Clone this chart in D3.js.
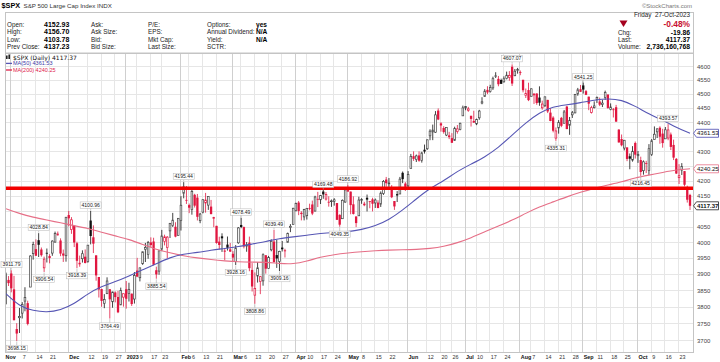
<!DOCTYPE html>
<html><head><meta charset="utf-8">
<script src="https://cdn.jsdelivr.net/npm/d3@7/dist/d3.min.js"></script>
<style>
html,body{margin:0;padding:0;background:#fff;}
svg{display:block;font-family:"Liberation Sans",Arial,sans-serif;}
</style></head><body>
<svg id="chart" width="720" height="362"></svg>
<script>
// ---------------- DATA ----------------
const dates = [
"2022-10-28","2022-10-31",
"2022-11-01","2022-11-02","2022-11-03","2022-11-04","2022-11-07","2022-11-08","2022-11-09","2022-11-10","2022-11-11","2022-11-14","2022-11-15","2022-11-16","2022-11-17","2022-11-18","2022-11-21","2022-11-22","2022-11-23","2022-11-25","2022-11-28","2022-11-29","2022-11-30",
"2022-12-01","2022-12-02","2022-12-05","2022-12-06","2022-12-07","2022-12-08","2022-12-09","2022-12-12","2022-12-13","2022-12-14","2022-12-15","2022-12-16","2022-12-19","2022-12-20","2022-12-21","2022-12-22","2022-12-23","2022-12-27","2022-12-28","2022-12-29","2022-12-30",
"2023-01-03","2023-01-04","2023-01-05","2023-01-06","2023-01-09","2023-01-10","2023-01-11","2023-01-12","2023-01-13","2023-01-17","2023-01-18","2023-01-19","2023-01-20","2023-01-23","2023-01-24","2023-01-25","2023-01-26","2023-01-27","2023-01-30","2023-01-31",
"2023-02-01","2023-02-02","2023-02-03","2023-02-06","2023-02-07","2023-02-08","2023-02-09","2023-02-10","2023-02-13","2023-02-14","2023-02-15","2023-02-16","2023-02-17","2023-02-21","2023-02-22","2023-02-23","2023-02-24","2023-02-27","2023-02-28",
"2023-03-01","2023-03-02","2023-03-03","2023-03-06","2023-03-07","2023-03-08","2023-03-09","2023-03-10","2023-03-13","2023-03-14","2023-03-15","2023-03-16","2023-03-17","2023-03-20","2023-03-21","2023-03-22","2023-03-23","2023-03-24","2023-03-27","2023-03-28","2023-03-29","2023-03-30","2023-03-31",
"2023-04-03","2023-04-04","2023-04-05","2023-04-06","2023-04-10","2023-04-11","2023-04-12","2023-04-13","2023-04-14","2023-04-17","2023-04-18","2023-04-19","2023-04-20","2023-04-21","2023-04-24","2023-04-25","2023-04-26","2023-04-27","2023-04-28",
"2023-05-01","2023-05-02","2023-05-03","2023-05-04","2023-05-05","2023-05-08","2023-05-09","2023-05-10","2023-05-11","2023-05-12","2023-05-15","2023-05-16","2023-05-17","2023-05-18","2023-05-19","2023-05-22","2023-05-23","2023-05-24","2023-05-25","2023-05-26","2023-05-30","2023-05-31",
"2023-06-01","2023-06-02","2023-06-05","2023-06-06","2023-06-07","2023-06-08","2023-06-09","2023-06-12","2023-06-13","2023-06-14","2023-06-15","2023-06-16","2023-06-20","2023-06-21","2023-06-22","2023-06-23","2023-06-26","2023-06-27","2023-06-28","2023-06-29","2023-06-30",
"2023-07-03","2023-07-05","2023-07-06","2023-07-07","2023-07-10","2023-07-11","2023-07-12","2023-07-13","2023-07-14","2023-07-17","2023-07-18","2023-07-19","2023-07-20","2023-07-21","2023-07-24","2023-07-25","2023-07-26","2023-07-27","2023-07-28","2023-07-31",
"2023-08-01","2023-08-02","2023-08-03","2023-08-04","2023-08-07","2023-08-08","2023-08-09","2023-08-10","2023-08-11","2023-08-14","2023-08-15","2023-08-16","2023-08-17","2023-08-18","2023-08-21","2023-08-22","2023-08-23","2023-08-24","2023-08-25","2023-08-28","2023-08-29","2023-08-30","2023-08-31",
"2023-09-01","2023-09-05","2023-09-06","2023-09-07","2023-09-08","2023-09-11","2023-09-12","2023-09-13","2023-09-14","2023-09-15","2023-09-18","2023-09-19","2023-09-20","2023-09-21","2023-09-22","2023-09-25","2023-09-26","2023-09-27","2023-09-28","2023-09-29",
"2023-10-02","2023-10-03","2023-10-04","2023-10-05","2023-10-06","2023-10-09","2023-10-10","2023-10-11","2023-10-12","2023-10-13","2023-10-16","2023-10-17","2023-10-18","2023-10-19","2023-10-20","2023-10-23","2023-10-24","2023-10-25","2023-10-26","2023-10-27"
];
const opens = [
3808.26,3881.85,
3901.79,3852.90,3733.25,3766.98,3780.71,3817.02,3810.94,3859.89,3963.72,3977.97,4006.41,3976.82,3919.26,3966.39,3956.23,3965.51,4000.30,4023.34,4005.36,3964.19,3957.18,
4087.14,4040.17,4052.02,3996.63,3933.28,3947.79,3954.17,3939.29,4069.38,4015.54,3958.37,3890.91,3853.79,3810.47,3839.49,3853.26,3815.11,3843.34,3829.56,3805.45,3829.06,
3853.29,3840.36,3839.74,3823.37,3910.82,3888.57,3932.35,3977.57,3960.60,3999.28,4002.25,3911.84,3909.04,3978.14,4001.74,3982.71,4036.08,4053.72,4049.27,4020.85,
4070.07,4158.68,4136.69,4119.57,4105.35,4153.47,4144.25,4068.92,4096.62,4126.70,4119.50,4114.75,4077.39,4052.35,4001.83,4018.60,3973.24,3992.36,3977.19,
3963.34,3938.68,3998.02,4055.15,4048.26,3987.55,3998.66,3912.77,3835.12,3894.01,3876.74,3878.93,3958.69,3917.47,3975.89,4002.04,3959.21,3939.21,3982.93,3974.13,3999.53,4046.74,4056.18,
4102.20,4128.03,4094.50,4081.15,4085.20,4110.29,4121.72,4100.04,4140.11,4137.17,4164.26,4139.33,4130.48,4132.14,4132.07,4126.43,4087.78,4075.29,4129.63,
4166.79,4164.10,4122.25,4082.61,4084.73,4136.98,4124.25,4143.74,4132.24,4138.54,4126.65,4127.95,4122.85,4157.68,4204.15,4190.78,4176.80,4132.96,4155.71,4156.16,4226.71,4190.74,
4183.03,4241.01,4282.99,4271.34,4285.47,4268.69,4304.88,4308.32,4352.61,4366.29,4365.33,4440.95,4396.11,4380.01,4355.40,4354.17,4344.84,4337.36,4367.48,4374.94,4422.44,
4450.48,4442.04,4422.62,4404.54,4394.23,4415.55,4467.69,4491.50,4514.61,4508.86,4521.78,4563.87,4554.38,4550.16,4543.39,4555.19,4558.96,4598.26,4565.75,4584.82,
4578.83,4550.93,4494.27,4513.96,4491.58,4498.03,4501.57,4487.16,4450.69,4458.13,4478.87,4433.79,4416.32,4344.88,4380.28,4415.33,4396.44,4455.16,4389.38,4426.03,4432.75,4500.34,4517.01,
4530.60,4510.06,4490.35,4434.55,4451.30,4480.98,4473.27,4462.65,4487.78,4497.98,4445.13,4445.41,4452.81,4374.36,4341.74,4310.62,4312.88,4282.63,4269.65,4328.18,
4284.52,4269.75,4233.83,4259.31,4234.79,4289.02,4339.75,4366.59,4380.94,4360.49,4342.37,4345.23,4357.35,4321.36,4273.85,4210.40,4235.79,4232.42,4175.99,4152.93
];
const highs = [
3905.42,3893.73,
3911.79,3894.44,3750.59,3796.34,3813.95,3859.40,3818.20,3958.33,4001.48,4008.97,4028.84,3983.09,3954.33,3979.89,3962.00,4005.88,4033.78,4034.02,4012.27,3976.77,4080.11,
4100.51,4080.48,4052.45,4001.51,3957.57,3974.19,3977.02,3990.71,4100.96,4053.76,3958.37,3890.91,3854.86,3838.24,3889.82,3853.26,3845.80,3846.65,3848.32,3858.19,3839.85,
3878.46,3873.16,3839.74,3906.19,3950.57,3919.83,3970.07,3997.76,4003.95,4015.39,4014.16,3922.94,3972.96,4039.31,4023.92,4019.55,4061.57,4094.21,4063.85,4077.16,
4148.95,4195.44,4182.36,4124.63,4176.54,4156.85,4156.23,4094.36,4138.90,4159.77,4148.11,4136.54,4081.51,4052.35,4017.37,4028.30,3978.25,4018.05,3997.50,
3971.73,3990.84,4048.29,4078.49,4050.00,4000.41,4017.81,3934.05,3905.05,3937.29,3894.26,3964.46,3958.91,3956.62,4009.08,4039.49,4007.66,3972.74,4003.83,3979.20,4030.59,4057.85,4110.75,
4127.66,4133.13,4099.69,4107.32,4109.50,4124.26,4134.37,4150.26,4163.19,4151.72,4169.48,4162.57,4148.57,4138.02,4142.41,4126.43,4089.67,4138.24,4170.06,
4186.92,4164.10,4148.30,4082.61,4147.02,4142.30,4130.35,4154.28,4132.80,4143.74,4141.25,4135.54,4164.67,4202.20,4212.91,4209.22,4185.68,4132.96,4165.74,4212.87,4231.10,4195.44,
4232.43,4290.67,4299.28,4288.33,4299.19,4298.01,4322.62,4340.13,4375.37,4391.82,4439.20,4448.47,4400.15,4386.22,4382.25,4366.55,4362.06,4384.42,4390.35,4398.39,4458.48,
4456.46,4454.06,4422.62,4440.39,4412.60,4443.64,4488.34,4517.38,4527.76,4532.85,4562.30,4578.43,4564.74,4555.00,4563.41,4580.62,4582.47,4607.07,4590.16,4594.22,
4584.62,4550.93,4519.49,4540.34,4519.84,4503.31,4502.44,4527.37,4476.23,4490.33,4478.87,4449.95,4421.17,4381.82,4407.55,4418.59,4443.18,4458.30,4418.46,4439.56,4500.14,4521.65,4532.26,
4541.25,4514.29,4490.35,4457.81,4473.53,4490.77,4487.11,4479.39,4511.99,4497.98,4466.36,4449.85,4461.03,4375.70,4357.40,4338.51,4313.01,4292.07,4317.27,4333.15,
4300.58,4281.15,4268.50,4267.13,4324.10,4341.73,4385.46,4378.64,4385.85,4377.10,4383.33,4393.57,4364.20,4339.54,4276.56,4255.84,4259.38,4232.42,4183.60,4156.70
];
const lows = [
3808.26,3863.18,
3843.80,3758.68,3698.15,3721.56,3764.70,3786.28,3744.22,3859.89,3944.82,3956.40,3953.17,3954.34,3906.54,3935.98,3933.34,3956.88,3998.66,4020.76,3955.77,3937.65,3938.58,
4050.87,4026.63,3984.49,3918.39,3922.68,3935.83,3933.04,3935.30,3993.03,3965.65,3879.45,3827.91,3800.04,3795.62,3839.49,3764.49,3797.01,3813.22,3780.78,3805.45,3800.34,
3794.33,3815.77,3802.42,3809.56,3890.42,3877.29,3928.54,3937.56,3947.67,3984.57,3926.59,3885.54,3897.86,3971.64,3989.79,3949.06,4013.29,4048.70,4015.55,4020.44,
4037.20,4141.88,4123.36,4093.38,4088.39,4111.67,4069.67,4060.79,4092.67,4095.01,4103.98,4089.43,4047.95,3995.19,3976.90,3969.19,3943.08,3973.55,3968.98,
3939.05,3928.16,3995.17,4044.61,3980.31,3969.76,3908.70,3846.32,3808.86,3873.63,3838.24,3864.11,3901.27,3916.89,3971.19,3936.17,3919.05,3909.16,3970.49,3951.53,3999.53,4032.10,4056.18,
4098.79,4086.87,4069.84,4069.84,4072.55,4102.61,4086.94,4099.40,4113.20,4123.18,4140.36,4134.49,4114.57,4113.86,4117.77,4071.38,4049.35,4075.29,4127.18,
4164.12,4089.72,4088.86,4048.28,4084.73,4123.81,4116.06,4098.92,4109.29,4099.12,4110.27,4109.86,4113.62,4153.14,4180.20,4179.68,4142.54,4103.98,4129.73,4156.16,4192.18,4166.15,
4171.64,4241.01,4266.82,4263.09,4263.96,4261.07,4291.70,4304.37,4337.66,4337.85,4362.60,4407.44,4367.19,4360.14,4351.82,4341.34,4328.08,4335.00,4360.22,4371.97,4422.44,
4442.29,4436.61,4385.05,4397.40,4389.92,4408.46,4463.23,4489.36,4499.56,4504.90,4514.59,4557.48,4527.56,4535.79,4541.29,4552.42,4547.58,4528.56,4564.01,4573.14,
4567.53,4505.75,4485.54,4474.55,4491.15,4464.39,4461.33,4457.92,4443.98,4453.44,4432.19,4403.55,4364.83,4335.31,4360.30,4382.77,4396.44,4375.55,4356.29,4414.98,4431.68,4493.59,4507.39,
4501.35,4496.01,4442.38,4430.46,4448.38,4467.89,4456.83,4453.52,4478.69,4447.21,4442.11,4416.61,4401.38,4329.17,4316.49,4302.70,4265.98,4238.63,4264.38,4274.86,
4260.21,4216.45,4220.48,4225.91,4219.55,4283.79,4339.64,4345.34,4325.43,4311.97,4342.37,4337.54,4303.84,4269.69,4223.03,4189.22,4219.43,4181.42,4127.90,4103.78
];
const closes = [
3901.06,3871.98,
3856.10,3759.69,3719.89,3770.55,3806.80,3828.11,3748.57,3956.37,3992.93,3957.25,3991.73,3958.79,3946.56,3965.34,3949.94,4003.58,4027.26,4026.12,3963.94,3957.63,4080.11,
4076.57,4071.70,3998.84,3941.26,3933.92,3963.51,3934.38,3990.56,4019.65,3995.32,3895.75,3852.36,3817.66,3821.62,3878.44,3822.39,3844.82,3829.25,3783.22,3849.28,3839.50,
3824.14,3852.97,3808.10,3895.08,3892.09,3919.25,3969.61,3983.17,3999.09,3990.97,3928.86,3898.85,3972.61,4019.81,4016.95,4016.22,4060.43,4070.56,4017.77,4076.60,
4119.21,4179.76,4136.48,4111.08,4164.00,4117.86,4081.50,4090.46,4137.29,4136.13,4147.60,4090.41,4079.09,3997.34,3991.05,4012.32,3970.04,3982.24,3970.15,
3951.39,3981.35,4045.64,4048.42,3986.37,3992.01,3918.32,3861.59,3855.76,3919.29,3891.93,3960.28,3916.64,3951.57,4002.87,3936.97,3948.72,3970.99,3977.53,3971.27,4027.81,4050.83,4109.31,
4124.51,4100.60,4090.38,4105.02,4109.11,4108.94,4091.95,4146.22,4137.64,4151.32,4154.87,4154.52,4129.79,4133.52,4137.04,4071.63,4055.99,4135.35,4169.48,
4167.87,4119.58,4090.75,4061.22,4136.25,4138.12,4119.17,4137.64,4130.62,4124.08,4136.28,4109.90,4158.77,4198.05,4191.98,4192.63,4145.58,4115.24,4151.28,4205.45,4205.52,4179.83,
4221.02,4282.37,4273.79,4283.85,4267.52,4293.93,4298.86,4338.93,4369.01,4372.59,4425.84,4409.59,4388.71,4365.69,4381.89,4348.33,4328.82,4378.41,4376.86,4396.44,4450.38,
4455.59,4446.82,4411.59,4398.95,4409.53,4439.26,4472.16,4510.04,4505.42,4522.79,4554.98,4565.72,4534.87,4536.34,4554.64,4567.46,4566.75,4537.41,4582.23,4588.96,
4576.73,4513.39,4501.89,4478.03,4518.44,4499.38,4467.71,4468.83,4464.05,4489.72,4437.86,4404.33,4370.36,4369.71,4399.77,4387.55,4436.01,4376.31,4405.71,4433.31,4497.63,4514.87,4507.66,
4515.77,4496.83,4465.48,4451.14,4457.49,4487.46,4461.90,4467.44,4505.10,4450.32,4453.53,4443.95,4402.20,4330.00,4320.06,4337.44,4273.53,4274.51,4299.70,4288.05,
4288.39,4229.45,4263.75,4258.19,4308.50,4335.66,4358.24,4376.95,4349.61,4327.78,4373.63,4373.20,4314.60,4278.00,4224.16,4217.04,4247.68,4186.77,4137.23,4117.37
];
const prevCloseBeforeFirst = 3807.30;

// moving averages (every 5 trading days)
const maIndex = [0,5,10,15,20,25,30,35,40,45,50,55,60,65,70,75,80,85,90,95,100,105,110,115,120,125,130,135,140,145,150,155,160,165,170,175,180,185,190,195,200,205,210,215,220,225,230,235,240,245,250];
const ma50 = [3840,3801,3788,3783,3790,3808,3840,3862,3876,3894,3913,3932,3952,3963,3967,3975,3980,3986,3994,4002,4012,4017,4022,4028,4031,4033,4040,4052,4072,4103,4140,4175,4200,4232,4256,4280,4312,4355,4398,4434,4455,4461,4469,4478,4484,4479,4457,4428,4408,4382,4361.53];
const ma200 = [4108,4092,4080,4071,4062,4053,4044,4032,4020,4009,3993,3977,3966,3957,3950,3945,3941,3938,3937,3937,3933,3931,3940,3953,3961,3966,3970,3973,3975,3976,3977,3980,3986,3998,4014,4033,4052,4070,4093,4114,4130,4147,4162,4175,4186,4196,4210,4219,4228,4237,4240.25];

const resistanceLevel = 4175;

// price-point annotations
const highLabelDates = ["2022-11-01","2022-11-15","2022-12-13","2023-02-02","2023-03-06","2023-03-22","2023-04-18","2023-05-01","2023-07-27","2023-09-01","2023-10-17"];
const lowLabelDates  = ["2022-11-03","2022-11-17","2022-12-06","2022-12-22","2023-01-19","2023-03-02","2023-03-13","2023-03-24","2023-04-26","2023-08-18","2023-10-03"];

// axes
const priceTicks = [4600,4550,4500,4450,4400,4350,4300,4250,4200,4150,4100,4050,4000,3950,3900,3850,3800,3750,3700];
const tickDates = ["2022-11-01","2022-11-07","2022-11-14","2022-11-21","2022-12-01","2022-12-12","2022-12-19","2022-12-27","2023-01-03","2023-01-09","2023-01-17","2023-01-23","2023-02-01","2023-02-06","2023-02-13","2023-02-21","2023-03-01","2023-03-06","2023-03-13","2023-03-20","2023-03-27","2023-04-03","2023-04-10","2023-04-17","2023-04-24","2023-05-01","2023-05-08","2023-05-15","2023-05-22","2023-06-01","2023-06-12","2023-06-20","2023-06-26","2023-07-03","2023-07-10","2023-07-17","2023-07-24","2023-08-01","2023-08-07","2023-08-14","2023-08-21","2023-08-28","2023-09-01","2023-09-11","2023-09-18","2023-09-25","2023-10-02","2023-10-09","2023-10-16","2023-10-23"];
const tickLabels = ["Nov","7","14","21","Dec","12","19","27","2023","9","17","23","Feb","6","13","21","Mar","6","13","20","27","Apr","10","17","24","May","8","15","22","Jun","12","20","26","Jul","10","17","24","Aug","7","14","21","28","Sep","11","18","25","Oct","9","16","23"];
const monthTickLabels = ["Nov","Dec","2023","Feb","Mar","Apr","May","Jun","Jul","Aug","Sep","Oct"];

// header quote info
const quoteCol1 = ["Open:","High:","Low:","Prev Close:"];
const quoteVal1 = ["4152.93","4156.70","4103.78","4137.23"];
const quoteCol2 = ["Ask:","Ask Size:","Bid:","Bid Size:"];
const quoteCol3 = ["P/E:","EPS:","Mkt Cap:","Last Size:"];
const quoteCol4 = ["Options:","Annual Dividend:","Yield:","SCTR:"];
const quoteVal4 = ["yes","N/A","N/A",""];
const sideLabels = ["Chg:","Last:","Volume:"];
const sideValues = ["-19.86","4117.37","2,736,160,768"];
const pctChange = "-0.48%";
const quoteDate = "Friday  27-Oct-2023";

// ---------------- DRAW ----------------
const svg = d3.select("#chart");
const P = {l:5, r:693, t:53, b:352};
const RED = "#e0163f", BLK = "#111";
const MA50C = "#5656b4", MA200C = "#e66f87";

const x = d3.scalePoint().domain(dates).range([5.8, 690]);
const y = d3.scaleLog().domain([3700, 4600]).range([340.3, 66.3]);

function txt(g, X, Y, s, o = {}) {
  return g.append("text").attr("x", X).attr("y", Y).text(s)
    .attr("font-size", o.size || 6.3)
    .attr("font-weight", o.bold ? "bold" : null)
    .attr("fill", o.fill || "#222")
    .attr("text-anchor", o.anchor || "start")
    .attr("font-family", o.family || null);
}

// header
const hd = svg.append("g");
txt(hd, 1.5, 8, "$SPX", {size: 7.3, bold: true, fill: "#000"});
txt(hd, 23.5, 7.8, "S&P 500 Large Cap Index INDX", {size: 6.2, fill: "#333"});
txt(hd, 692, 8, "\u00A9StockCharts.com", {size: 6, fill: "#777", anchor: "end"});
hd.append("rect").attr("x", P.l + 0.5).attr("y", 12.5).attr("width", P.r - P.l).attr("height", P.t - 12.5)
  .attr("fill", "none").attr("stroke", "#c4c4c4");
const rowY = [26.6, 34.2, 41.6, 49];
rowY.forEach((ry, k) => {
  txt(hd, 7, ry, quoteCol1[k]);
  txt(hd, 44, ry, quoteVal1[k], {size: 7, bold: true, fill: "#000"});
  txt(hd, 91, ry, quoteCol2[k]);
  txt(hd, 148, ry, quoteCol3[k]);
  txt(hd, 207, ry, quoteCol4[k]);
  if (quoteVal4[k]) txt(hd, 256, ry, quoteVal4[k], {size: 6.6, bold: true, fill: "#000"});
});
txt(hd, 690, 17.2, quoteDate, {size: 6.3, anchor: "end"}).attr("xml:space", "preserve").style("white-space", "pre");
hd.append("path").attr("d", "M619.5,20.5 L627.5,20.5 L623.5,27 Z").attr("fill", "#a5001e");
txt(hd, 690, 27, pctChange, {size: 8.4, bold: true, fill: "#c8102e", anchor: "end"});
[34.6, 41.8, 49].forEach((ry, k) => {
  txt(hd, 618, ry, sideLabels[k]);
  txt(hd, 690, ry, sideValues[k], {size: 6.8, bold: true, fill: "#000", anchor: "end"});
});

// grid
const grid = svg.append("g").attr("shape-rendering", "crispEdges");
priceTicks.forEach(v => {
  grid.append("line").attr("x1", P.l).attr("x2", P.r).attr("y1", Math.round(y(v)) + 0.5).attr("y2", Math.round(y(v)) + 0.5)
    .attr("stroke", "#e6e6e6");
});
tickDates.forEach((d, i) => {
  const isMonth = monthTickLabels.includes(tickLabels[i]);
  const xx = Math.round(x(d)) - 0.5;
  grid.append("line").attr("x1", xx).attr("x2", xx).attr("y1", P.t).attr("y2", P.b)
    .attr("stroke", isMonth ? "#cfcfcf" : "#e6e6e6");
});
svg.append("rect").attr("x", P.l + 0.5).attr("y", P.t + 0.5).attr("width", P.r - P.l).attr("height", P.b - P.t)
  .attr("fill", "none").attr("stroke", "#c4c4c4").attr("shape-rendering", "crispEdges");

// clip
svg.append("clipPath").attr("id", "clip").append("rect")
  .attr("x", P.l + 1).attr("y", P.t + 1).attr("width", P.r - P.l - 1).attr("height", P.b - P.t - 1);
const plot = svg.append("g").attr("clip-path", "url(#clip)");

// candles
const bw = 2.3;
const cg = plot.append("g");
dates.forEach((d, i) => {
  const o = opens[i], h = highs[i], l = lows[i], c = closes[i];
  const pc = i === 0 ? prevCloseBeforeFirst : closes[i - 1];
  const col = c >= pc ? BLK : RED;
  const hollow = c >= o;
  const cx = x(d);
  cg.append("line").attr("x1", cx).attr("x2", cx).attr("y1", y(h)).attr("y2", y(l))
    .attr("stroke", col).attr("stroke-width", 0.8);
  const y1 = y(Math.max(o, c)), y2 = y(Math.min(o, c));
  const hh = Math.max(0.8, y2 - y1);
  if (hollow) {
    cg.append("rect").attr("x", cx - bw / 2 + 0.3).attr("y", y1).attr("width", bw - 0.6).attr("height", hh)
      .attr("fill", "#fff").attr("stroke", col === BLK ? "#444" : RED).attr("stroke-width", 0.7);
  } else {
    cg.append("rect").attr("x", cx - bw / 2).attr("y", y1).attr("width", bw).attr("height", hh)
      .attr("fill", col);
  }
});

// moving averages
const line = d3.line().x(k => x(dates[maIndex[k]])).curve(d3.curveBasis);
plot.append("path").attr("d", line.y(k => y(ma200[k]))(d3.range(ma200.length)))
  .attr("fill", "none").attr("stroke", MA200C).attr("stroke-width", 1.1);
plot.append("path").attr("d", line.y(k => y(ma50[k]))(d3.range(ma50.length)))
  .attr("fill", "none").attr("stroke", MA50C).attr("stroke-width", 1.1);

// resistance line
plot.append("line").attr("x1", P.l).attr("x2", P.r).attr("y1", y(resistanceLevel)).attr("y2", y(resistanceLevel))
  .attr("stroke", "#f20000").attr("stroke-width", 3.6);

// price annotations
const ann = svg.append("g");
function annot(d, isHigh) {
  const i = dates.indexOf(d);
  const v = isHigh ? highs[i] : lows[i];
  const cx = x(d), yv = y(v);
  const bwid = 21, bh = 6.4;
  const cy = isHigh ? yv - 5.7 : yv + 7.5;
  const bx = Math.max(1, Math.min(P.r - bwid - 1, cx - bwid / 2));
  ann.append("line").attr("x1", cx).attr("x2", cx)
    .attr("y1", isHigh ? yv - 0.5 : yv + 0.5).attr("y2", isHigh ? cy + bh / 2 : cy - bh / 2)
    .attr("stroke", "#aaa").attr("stroke-width", 0.6);
  ann.append("rect").attr("x", bx).attr("y", cy - bh / 2).attr("width", bwid).attr("height", bh)
    .attr("fill", "#fff").attr("stroke", "#b5b5b5").attr("stroke-width", 0.5);
  ann.append("text").attr("x", bx + bwid / 2).attr("y", cy + 1.8).attr("text-anchor", "middle")
    .attr("font-size", 5.1).attr("fill", "#222").text(v.toFixed(2));
}
highLabelDates.forEach(d => annot(d, true));
lowLabelDates.forEach(d => annot(d, false));

// legend
const lg = svg.append("g");
lg.append("rect").attr("x", 6).attr("y", 55.5).attr("width", 1.6).attr("height", 3.5).attr("fill", "#222");
lg.append("rect").attr("x", 8.4).attr("y", 54.5).attr("width", 1.6).attr("height", 4.5).attr("fill", "#222");
txt(lg, 13, 59.6, `$SPX (Daily) ${closes[closes.length - 1].toFixed(2)}`, {size: 6, fill: "#111", family: "DejaVu Sans"});
lg.append("line").attr("x1", 6).attr("x2", 12).attr("y1", 63.4).attr("y2", 63.4).attr("stroke", MA50C).attr("stroke-width", 1.3);
txt(lg, 13, 65.4, `MA(50) ${ma50[ma50.length - 1].toFixed(2)}`, {size: 5.5, fill: "#3a3aa6"});
lg.append("line").attr("x1", 6).attr("x2", 12).attr("y1", 70).attr("y2", 70).attr("stroke", "#e0204a").attr("stroke-width", 1.3);
txt(lg, 13, 72, `MA(200) ${ma200[ma200.length - 1].toFixed(2)}`, {size: 5.5, fill: "#e0204a"});

// value boxes on right axis
const boxes = [
  {v: ma50[ma50.length - 1], stroke: "#4848b0"},
  {v: ma200[ma200.length - 1], stroke: "#e66f87"},
  {v: closes[closes.length - 1], stroke: "#222"}
];
const boxYs = boxes.map(b => y(b.v));

// right axis
const shownTicks = priceTicks.filter(v => boxYs.every(by => Math.abs(y(v) - by) > 6));
const yAxis = d3.axisRight(y).tickValues(shownTicks).tickSize(0).tickPadding(3).tickFormat(d3.format("d"));
const gy = svg.append("g").attr("transform", `translate(${P.r + 1},0)`).call(yAxis);
gy.select(".domain").remove();
gy.selectAll("text").attr("font-size", 6).attr("fill", "#444").attr("font-family", "Liberation Sans, Arial, sans-serif");

boxes.forEach((b, k) => {
  const by = boxYs[k];
  svg.append("path").attr("d", `M${P.r + 0.5},${by} L${P.r + 3.5},${by - 4} L718.5,${by - 4} L718.5,${by + 4} L${P.r + 3.5},${by + 4} Z`)
    .attr("fill", "#fff").attr("stroke", b.stroke).attr("stroke-width", 0.8);
  svg.append("text").attr("x", 697).attr("y", by + 2.1).attr("font-size", 6).attr("fill", "#111")
    .attr("font-weight", k === 2 ? "bold" : null).text(b.v.toFixed(2));
});

// bottom axis
const isMonthTick = d => monthTickLabels.includes(tickLabels[tickDates.indexOf(d)]);
const xAxis = d3.axisBottom(x).tickValues(tickDates).tickSize(0).tickPadding(0).tickFormat((d, i) => tickLabels[i]);
const gx = svg.append("g").attr("transform", `translate(0,${P.b})`).call(xAxis);
gx.select(".domain").remove();
gx.selectAll("text").attr("dy", null).attr("y", 6.8).attr("text-anchor", "start")
  .attr("font-family", "Liberation Sans, Arial, sans-serif")
  .attr("font-size", 5.4)
  .attr("font-weight", d => isMonthTick(d) ? "bold" : null)
  .attr("fill", d => isMonthTick(d) ? "#111" : "#333");
gx.selectAll(".tick").filter((d, i) => i === 0).select("text").attr("x", d => P.l - x(d));
// nudge labels that would touch the previous one
let prevEnd = -Infinity;
gx.selectAll(".tick").each(function (d) {
  const t = d3.select(this).select("text");
  const base = x(d) + (+t.attr("x") || 0);
  let start = base;
  if (start < prevEnd + 1) {
    const shift = prevEnd + 1 - start;
    t.attr("x", (+t.attr("x") || 0) + shift);
    start += shift;
  }
  prevEnd = start + t.node().getComputedTextLength();
});

if (![opens, highs, lows, closes].every(a => a.length === dates.length)) console.error("length mismatch", dates.length, opens.length, highs.length, lows.length, closes.length);
</script>
</body></html>
